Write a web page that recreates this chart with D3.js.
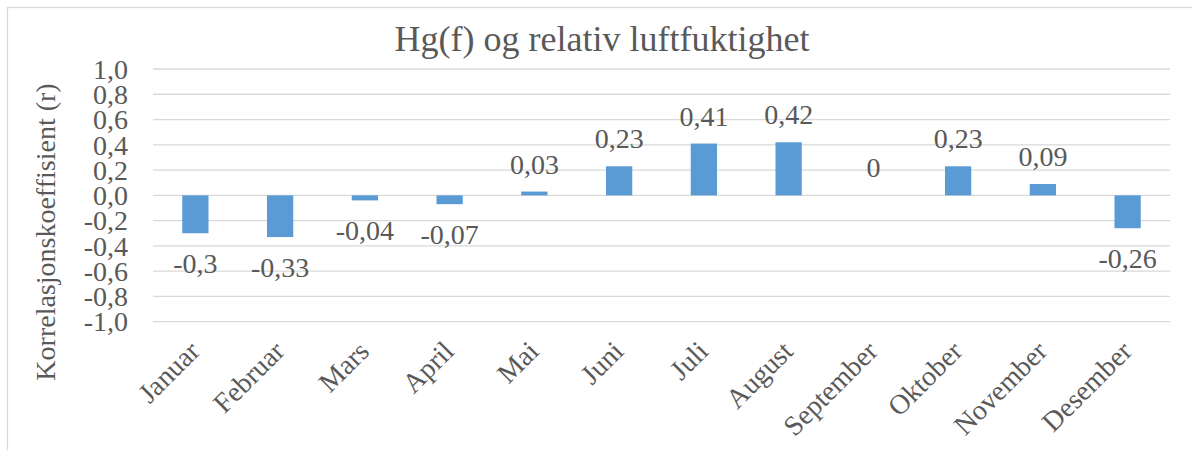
<!DOCTYPE html>
<html>
<head>
<meta charset="utf-8">
<script src="https://cdn.jsdelivr.net/npm/d3@7"></script>
<style>
  html, body { margin: 0; padding: 0; background: #fff; }
  svg { display: block; }
  svg text { font-family: "Liberation Serif", "Times New Roman", Times, Tinos, "Nimbus Roman", "DejaVu Serif", serif !important; fill: #595959; }
</style>
</head>
<body>
<svg id="chart" width="1192" height="450"></svg>
<script>
// Monthly correlation between Hg(f) and relative humidity
const months = ["Januar", "Februar", "Mars", "April", "Mai", "Juni", "Juli",
                "August", "September", "Oktober", "November", "Desember"];
const correlation = [-0.3, -0.33, -0.04, -0.07, 0.03, 0.23, 0.41, 0.42, 0, 0.23, 0.09, -0.26];
const yTicks = [1.0, 0.8, 0.6, 0.4, 0.2, 0.0, -0.2, -0.4, -0.6, -0.8, -1.0];

const title = "Hg(f) og relativ luftfuktighet";
const yTitle = "Korrelasjonskoeffisient (r)";

const svg = d3.select("#chart");
const W = 1192, H = 450;
const plot = { left: 153, right: 1170, top: 69, bottom: 321.7 };

// comma decimal separator
const fmtTick = v => d3.format(".1f")(v).replace(".", ",").replace("−", "-");
const fmtLabel = v => String(v).replace(".", ",");

// chart frame
svg.append("rect")
  .attr("x", 7.5).attr("y", 7.5)
  .attr("width", W + 20).attr("height", H + 20)
  .attr("fill", "#fff").attr("stroke", "#d9d9d9").attr("stroke-width", 1.3);

const x = d3.scaleBand()
  .domain(months)
  .range([plot.left, plot.right])
  .paddingInner(0.69)
  .paddingOuter(0.345);

const y = d3.scaleLinear().domain([-1, 1]).range([plot.bottom, plot.top]);

// gridlines
svg.append("g").selectAll("line").data(yTicks).join("line")
  .attr("x1", plot.left).attr("x2", plot.right)
  .attr("y1", d => y(d)).attr("y2", d => y(d))
  .attr("stroke", "#d9d9d9").attr("stroke-width", 1.3);

// y tick labels
const yAxis = d3.axisLeft(y).tickValues(yTicks).tickFormat(fmtTick).tickSize(0).tickPadding(0);
const yG = svg.append("g").attr("transform", `translate(128,0)`).call(yAxis);
yG.select(".domain").remove();
yG.attr("font-family", null).attr("font-size", null);
yG.selectAll("text")
  .attr("font-size", 28)
  .attr("fill", "#595959")
  .attr("dy", "0.33em");

// bars
svg.append("g").selectAll("rect").data(correlation).join("rect")
  .attr("x", (d, i) => x(months[i]))
  .attr("width", x.bandwidth())
  .attr("y", d => y(Math.max(0, d)))
  .attr("height", d => Math.abs(y(d) - y(0)))
  .attr("fill", "#5b9bd5");

// value labels
svg.append("g").selectAll("text").data(correlation).join("text")
  .attr("x", (d, i) => x(months[i]) + x.bandwidth() / 2)
  .attr("y", d => d >= 0 ? y(d) - 18 : y(d) + 40)
  .attr("text-anchor", "middle")
  .attr("font-size", 28)
  .text(d => fmtLabel(d));

// category labels, rotated
svg.append("g").selectAll("text").data(months).join("text")
  .attr("transform", d => `translate(${x(d) + x.bandwidth() / 2 - 1},${346}) rotate(-45)`)
  .attr("text-anchor", "end")
  .attr("dy", "0.35em")
  .attr("font-size", 28)
  .text(d => d);

// axis title
svg.append("text")
  .attr("transform", `translate(55,232) rotate(-90)`)
  .attr("text-anchor", "middle")
  .attr("font-size", 28)
  .text(yTitle);

// chart title
svg.append("text")
  .attr("x", 602).attr("y", 51)
  .attr("text-anchor", "middle")
  .attr("font-size", 36)
  .text(title);
</script>
</body>
</html>
